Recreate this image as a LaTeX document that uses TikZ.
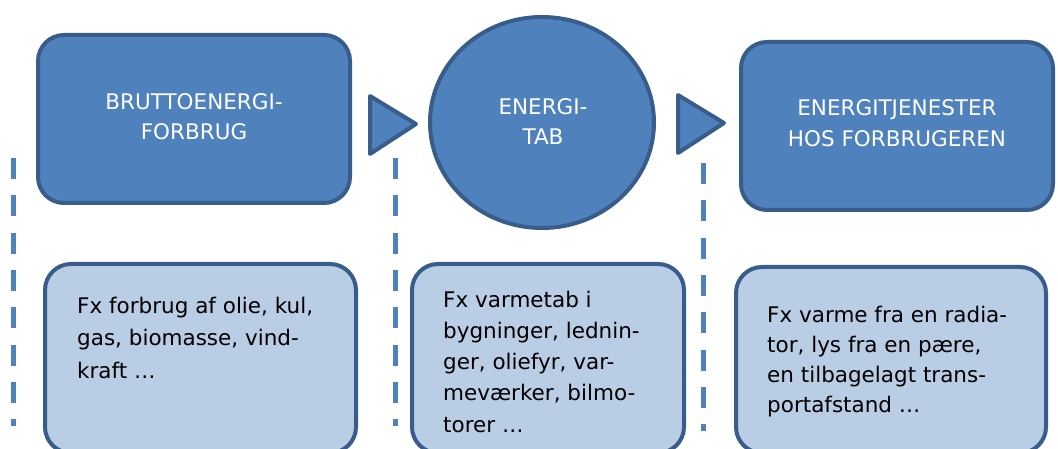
\documentclass[tikz,border=0pt]{standalone}
\usepackage{fontspec}
\setmainfont{DejaVu Sans}
\usetikzlibrary{shapes.geometric}
\definecolor{boxfill}{HTML}{4F81BD}
\definecolor{boxline}{HTML}{385D8A}
\definecolor{lightfill}{HTML}{B9CDE5}
\definecolor{dashcol}{HTML}{4F81BD}
\begin{document}
\begin{tikzpicture}[x=1pt,y=-1pt,
  upperbox/.style={draw=boxline, fill=boxfill, line width=4pt, rounded corners=26pt,
    minimum width=312pt, minimum height=168pt, inner sep=0pt},
  lowerbox/.style={draw=boxline, fill=lightfill, line width=4pt, rounded corners=26pt, inner sep=0pt},
  roundshape/.style={ellipse, draw=boxline, fill=boxfill, line width=4pt, inner sep=0pt,
    minimum width=224pt, minimum height=211pt},
  uppertext/.style={anchor=base, inner sep=0pt, text=white, font=\fontsize{21.5}{30}\selectfont},
  lowertext/.style={anchor=base west, inner sep=0pt, text=black, font=\fontsize{21.5}{31}\selectfont},
  dashline/.style={draw=dashcol, line width=5pt, dash pattern=on 21pt off 16.3pt},
  tri/.style={draw=boxline, fill=boxfill, line width=4pt, line join=round}
]
\useasboundingbox (0,0) rectangle (1058,449);
\begin{scope}
\clip (0,0) rectangle (1058,449);

% dashed separators
\coordinate (d1a) at (13,158);
\coordinate (d1b) at (13,426);
\coordinate (d2a) at (395,158);
\coordinate (d2b) at (395,426);
\coordinate (d3a) at (703,163);
\coordinate (d3b) at (703,431);
\draw[dashline] (d1a) -- (d1b);
\draw[dashline] (d2a) -- (d2b);
\draw[dashline] (d3a) -- (d3b);

% upper shapes
\node[upperbox] (b1) at (194,119) {};
\node[roundshape] (c2) at (542,122.5) {};
\node[upperbox] (b3) at (897,126) {};

\node[uppertext] (t1) at (194,110) {\vtop{\baselineskip=30pt
  \hbox to 0pt{\hss BRUTTOENERGI-\hss}\hbox to 0pt{\hss FORBRUG\hss}}};
\node[uppertext] (t2) at (543,115) {\vtop{\baselineskip=30pt
  \hbox to 0pt{\hss ENERGI-\hss}\hbox to 0pt{\hss TAB\hss}}};
\node[uppertext] (t3) at (897,116) {\vtop{\baselineskip=31pt
  \hbox to 0pt{\hss ENERGITJENESTER\hss}\hbox to 0pt{\hss HOS FORBRUGEREN\hss}}};

% triangles
\draw[tri] (370,96) -- (370,154) -- (416,124) -- cycle;
\draw[tri] (678,95) -- (678,153) -- (724,123) -- cycle;

% lower boxes
\node[lowerbox, minimum width=311pt, minimum height=189pt] (l1) at (200.5,358.5) {};
\node[lowerbox, minimum width=272pt, minimum height=189pt] (l2) at (548,358.5) {};
\node[lowerbox, minimum width=310pt, minimum height=186pt] (l3) at (891,360) {};

\node[lowertext] (x1) at (77,313) {\vtop{\baselineskip=32.5pt
  \hbox{Fx forbrug af olie, kul,}\hbox{gas, biomasse, vind-}\hbox{kraft …}}};
\node[lowertext] (x2) at (443,307) {\vtop{\baselineskip=31.3pt
  \hbox{Fx varmetab i}\hbox{bygninger, lednin-}\hbox{ger, oliefyr, var-}\hbox{meværker, bilmo-}\hbox{torer …}}};
\node[lowertext] (x3) at (767,322) {\vtop{\baselineskip=30.3pt
  \hbox{Fx varme fra en radia-}\hbox{tor, lys fra en pære,}\hbox{en tilbagelagt trans-}\hbox{portafstand …}}};
\end{scope}
\end{tikzpicture}
\end{document}
